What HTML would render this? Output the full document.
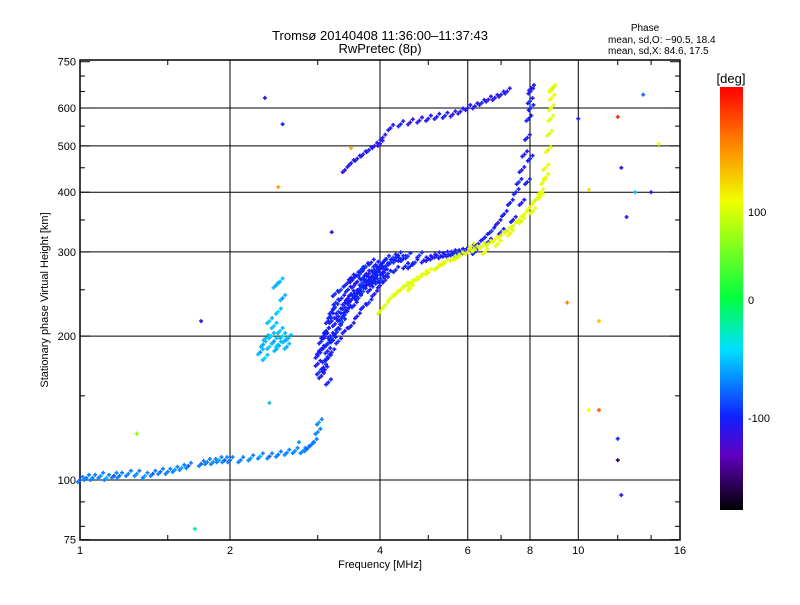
<!DOCTYPE html>
<html><head><meta charset="utf-8"><style>
body{margin:0;background:#fff;}
svg{font-family:"Liberation Sans",sans-serif;}
</style></head><body>
<svg id="c" width="800" height="600" xmlns="http://www.w3.org/2000/svg">
<text x="380" y="40" font-size="13" text-anchor="middle">Tromsø 20140408 11:36:00–11:37:43</text>
<text x="380" y="53" font-size="13" text-anchor="middle">RwPretec (8p)</text>
<text x="645" y="31" font-size="10" text-anchor="middle">Phase</text>
<text x="608" y="43" font-size="10">mean, sd,O: −90.5, 18.4</text>
<text x="608" y="54" font-size="10">mean, sd,X:  84.6, 17.5</text>
<text x="380" y="568" font-size="11" text-anchor="middle">Frequency [MHz]</text>
<text transform="translate(48,300) rotate(-90)" font-size="11" text-anchor="middle">Stationary phase Virtual Height [km]</text>
<defs><linearGradient id="cg" x1="0" y1="0" x2="0" y2="1">
<stop offset="0" stop-color="#ff0000"/><stop offset="0.13" stop-color="#ff8000"/><stop offset="0.27" stop-color="#f0ff00"/><stop offset="0.5" stop-color="#00ff40"/><stop offset="0.62" stop-color="#00e0ff"/><stop offset="0.78" stop-color="#1020ff"/><stop offset="0.87" stop-color="#6000c0"/><stop offset="1" stop-color="#000000"/></linearGradient></defs>
<rect x="720" y="87" width="23" height="423" fill="url(#cg)"/>
<text x="731" y="83" font-size="13" text-anchor="middle">[deg]</text>
<text x="748" y="216" font-size="11">100</text>
<text x="748" y="304" font-size="11">0</text>
<text x="748" y="422" font-size="11">-100</text>
<g id="grid"></g><g id="pts"></g>
</svg>
<script>
const xTicks=[1,2,4,6,8,10,16];
const yTicks=[75,100,200,300,400,500,600,750];
const yMinor=[80,90,150,250,350,450,550,650,700];
// traces: freq, height, phase
const t1F=[1.0,1.03,1.06,1.1,1.13,1.17,1.2,1.25,1.3,1.35,1.4,1.45,1.5,1.55,1.6,1.65,1.75,1.8,1.85,1.9,1.95,2.0,2.1,2.2,2.3,2.4,2.5,2.6,2.7,2.8,2.85,2.9,2.95,3.0,3.02];
const t1H=[100,101,101,102,101,102,102,103,103,102,103,104,104,105,106,107,108,109,109,110,110,110,110,111,112,112,113,114,115,115,116,118,120,126,132];
const t1P=-75;
const t2F=[2.3,2.33,2.36,2.4,2.42,2.45,2.48,2.5,2.52,2.55,2.58,2.6,2.62,2.45,2.5,2.55,2.47,2.52,2.4,2.35];
const t2H=[185,192,198,190,200,195,188,192,205,200,196,190,198,210,225,240,255,260,215,180];
const t2P=-60;
const t3F=[3.0,3.02,3.05,3.08,3.1,3.12,3.15,3.18,3.2,3.25,3.3,3.35,3.4,3.45,3.5,3.55,3.6,3.65,3.7,3.75,3.8,3.85,3.9,3.95,4.0,3.05,3.1,3.15,3.2,3.3,3.4,3.5,3.6,3.7,3.8,3.9,4.0,3.1,3.2,3.3,3.45,3.6,3.75,3.9,3.25,3.5,3.7,3.15,3.4,3.65,4.05,4.2,4.4,4.6,4.8,5.0,5.2,5.4,5.6,5.8,6.0,4.1,4.3,4.5,4.7,4.9,5.1,5.3,5.5,5.7,5.9,6.1,6.3,6.5,6.7,6.9,7.1,7.3,7.5,7.6,7.7,7.8,7.9,7.95,8.0,8.02,8.05,6.2,6.6,7.0,7.4,7.7,7.9,8.0,8.03];
const t3H=[175,185,195,200,190,205,215,200,225,230,220,240,235,250,245,255,260,250,265,262,270,258,275,268,280,165,170,180,185,195,205,210,220,230,235,245,255,200,215,225,240,245,255,260,245,265,275,160,230,270,272,285,290,280,295,290,295,296,298,300,302,262,275,280,285,288,292,294,296,298,300,306,312,322,332,345,360,380,400,420,445,480,520,570,620,650,660,300,315,330,350,380,420,470,600];
const t3P=-105;
const t6F=[3.0,3.05,3.1,3.15,3.2,3.25,3.3,3.35,3.4,3.45,3.5,3.55,3.6,3.65,3.7,3.75,3.8,3.85,3.9,3.95,4.0,4.05,4.1,4.15,3.02,3.08,3.14,3.22,3.28,3.36,3.42,3.48,3.56,3.62,3.68,3.76,3.82,3.88,3.96,4.02,4.08,3.12,3.18,3.26,3.34,3.44,3.52,3.58,3.66,3.74,3.84,3.92,4.12,4.2,4.25,4.3,4.35,4.45,4.55];
const t6H=[182,188,178,193,198,212,208,218,222,228,238,232,242,252,248,256,262,266,270,274,276,285,280,270,168,172,186,196,204,214,226,236,246,240,258,270,250,264,260,262,272,205,220,235,250,258,262,268,275,280,285,282,290,285,292,288,295,290,294];
const t6P=-100;
const t4F=[3.4,3.5,3.6,3.7,3.8,3.9,4.0,4.05,4.2,4.4,4.6,4.8,5.0,5.2,5.4,5.6,5.8,6.0,6.2,6.4,6.6,6.8,7.0,7.2];
const t4H=[445,460,470,480,490,500,505,520,545,555,560,565,570,575,578,582,590,600,605,615,625,630,640,650];
const t4P=-110;
const t5F=[4.0,4.1,4.2,4.3,4.4,4.5,4.6,4.7,4.8,5.0,5.2,5.4,5.6,5.8,6.0,6.2,6.4,6.6,6.8,7.0,7.2,7.4,7.6,7.8,8.0,8.2,8.4,8.5,8.6,8.7,8.75,8.8,8.82,8.85,8.85,8.86,4.3,4.6,4.9,5.3,5.7,6.1,6.5,6.9,7.3,7.7,8.1,8.4,8.6];
const t5H=[225,232,240,245,250,255,258,262,265,272,278,285,290,295,300,304,308,312,318,325,332,340,350,360,372,385,400,420,450,490,530,570,600,630,655,660,245,252,270,282,292,308,300,312,328,348,365,392,430];
const t5P=95;
const outF=[2.35,2.55,2.5,1.75,1.3,1.7,2.4,2.75,3.2,3.5,10.0,10.5,11.0,12.0,12.2,13.0,14.0,12.0,10.5,11.0,12.0,9.5,13.5,14.5,12.5,12.2];
const outH=[630,555,410,215,125,79,145,120,330,495,570,405,215,575,450,400,400,110,140,140,122,235,640,505,355,93];
const outP=[-110,-100,130,-110,60,-20,-60,-70,-110,130,-110,110,120,170,-110,-60,-110,-160,100,150,-100,140,-80,100,-110,-110];

const xs=f=>80+150*Math.log2(f);
const ys=h=>480-478*Math.log10(h/100);
const NS="http://www.w3.org/2000/svg";
function el(tag,attrs,parent){const e=document.createElementNS(NS,tag);for(const k in attrs)e.setAttribute(k,attrs[k]);parent.appendChild(e);return e;}
const stops=[[180,[255,0,0]],[140,[255,128,0]],[100,[240,255,0]],[50,[120,255,0]],[0,[0,255,64]],[-50,[0,224,255]],[-100,[16,32,255]],[-140,[96,0,192]],[-180,[0,0,0]]];
function col(p){for(let i=0;i<stops.length-1;i++){const[a,ca]=stops[i],[b,cb]=stops[i+1];if(p<=a&&p>=b){const t=(a-p)/(a-b);return `rgb(${ca.map((v,j)=>Math.round(v+(cb[j]-v)*t)).join(',')})`;}}return '#000';}
const g=document.getElementById('grid');
const frame=el('rect',{x:80,y:60,width:600,height:480,fill:'none',stroke:'#000','stroke-width':1.5},g);


xTicks.forEach(f=>{const x=xs(f);
 if(f>1&&f<16){const l=el('line',{x1:x,x2:x,y1:60,y2:540,stroke:'#000','stroke-width':1},g);}
 const t=el('text',{x:x,y:554,'font-size':11,'text-anchor':'middle'},g);t.textContent=f;
 
 });
yTicks.forEach(h=>{const y=ys(h);
 if(h>75&&h<750){const l=el('line',{x1:80,x2:680,y1:y,y2:y,stroke:'#000','stroke-width':1},g);}
 el('line',{x1:80,x2:90,y1:y,y2:y,stroke:'#000'},g);el('line',{x1:670,x2:680,y1:y,y2:y,stroke:'#000'},g);
 const t=el('text',{x:76,y:y+4,'font-size':11,'text-anchor':'end'},g);t.textContent=h;
 
 });
yMinor.forEach(h=>{const y=ys(h);el('line',{x1:80,x2:85,y1:y,y2:y,stroke:'#000'},g);el('line',{x1:675,x2:680,y1:y,y2:y,stroke:'#000'},g);});
[1.5,3,5,7,12,14].forEach(f=>{const x=xs(f);el('line',{x1:x,x2:x,y1:540,y2:535,stroke:'#000'},g);el('line',{x1:x,x2:x,y1:60,y2:65,stroke:'#000'},g);});
const P=document.getElementById('pts');
function plus(f,h,p,name){const x=xs(f),y=ys(h);const c=col(p);
 const e=el('path',{d:`M${x-2},${y}h4M${x},${y-2}v4`,stroke:c,'stroke-width':1.6},P);
 
 }
[[t1F,t1H,t1P,'o-trace-e'],[t2F,t2H,t2P,'o-trace-f1'],[t3F,t3H,t3P,'o-trace-f2'],[t6F,t6H,t6P,'o-trace-f2-spread'],[t4F,t4H,t4P,'o-trace-upper'],[t5F,t5H,t5P,'x-trace-f2']].forEach(([F,H,p,n])=>{
 F.forEach((f,i)=>{plus(f,H[i],p+((i%5)-2)*6,n);plus(f*1.012,H[i]*1.015,p,n);plus(f*0.99,H[i]*0.99,p,n);});});
outF.forEach((f,i)=>plus(f,outH[i],outP[i],'outlier-point'));
</script>
</body></html>
